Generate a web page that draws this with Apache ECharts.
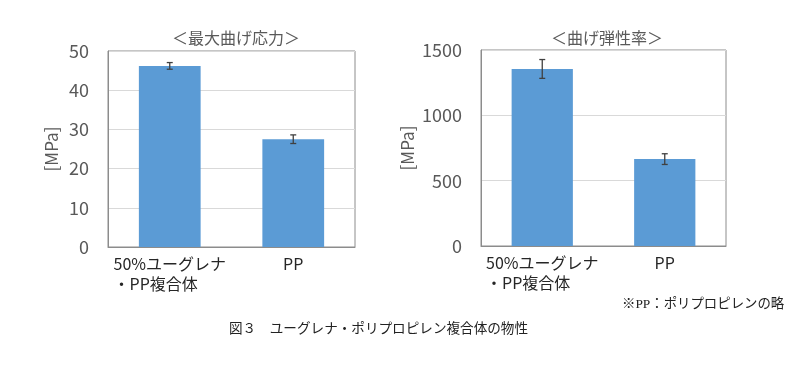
<!DOCTYPE html>
<html><head><meta charset="utf-8">
<script src="https://cdn.jsdelivr.net/npm/echarts@6/dist/echarts.min.js"></script>
<style>html,body{margin:0;padding:0;background:#fff}#c{width:800px;height:365px}</style>
</head><body><div id="c"></div>
<script>
const categories = ['50%ユーグレナ\n・PP複合体', 'PP'];
const stressValues = [46.2, 27.5];
const stressErrors = [0.85, 1.1];
const modulusValues = [1355, 665];
const modulusErrors = [72, 41];
const stressAxis = { min: 0, max: 50, interval: 10 };
const modulusAxis = { min: 0, max: 1500, interval: 500 };
const titles = ['＜最大曲げ応力＞', '＜曲げ弾性率＞'];
const yName = '[MPa]';
const footnote = '※PP：ポリプロピレンの略';
const caption = '図３　ユーグレナ・ポリプロピレン複合体の物性';

const SANS = "'Noto Sans CJK JP', sans-serif";
const SERIF = "'Liberation Serif', 'Noto Sans CJK JP', serif";
const AX = '#8c8c8c';

function errData(vals, errs) {
  return vals.map((v, i) => [i, v - errs[i], v + errs[i]]);
}
function errRender(params, api) {
  const x = api.value(0);
  const lo = api.coord([x, api.value(1)]);
  const hi = api.coord([x, api.value(2)]);
  const w = 3;
  const st = { stroke: '#404040', lineWidth: 1.3 };
  return { type: 'group', children: [
    { type: 'line', shape: { x1: lo[0], y1: lo[1], x2: hi[0], y2: hi[1] }, style: st },
    { type: 'line', shape: { x1: lo[0]-w, y1: lo[1], x2: lo[0]+w, y2: lo[1] }, style: st },
    { type: 'line', shape: { x1: hi[0]-w, y1: hi[1], x2: hi[0]+w, y2: hi[1] }, style: st }
  ]};
}
function xAxis(gi) {
  return {
    type: 'category', gridIndex: gi, data: categories,
    axisLine: { lineStyle: { color: AX } }, axisTick: { show: false },
    axisLabel: {
      interval: 0, hideOverlap: false,
      margin: 7, color: '#262626', fontFamily: SANS, fontSize: 16,
      formatter: v => v.indexOf('\n') >= 0 ? v.split('\n').map(s => '{a|' + s + '}').join('\n') : '{b|' + v + '}',
      rich: {
        a: { align: 'left', fontFamily: SANS, fontSize: 16, color: '#262626', lineHeight: 20 },
        b: { fontFamily: SANS, fontSize: 16, color: '#262626', lineHeight: 20 }
      }
    }
  };
}
function yAxis(gi, ax, gap) {
  return {
    type: 'value', gridIndex: gi, min: ax.min, max: ax.max, interval: ax.interval,
    name: yName, nameLocation: 'middle', nameRotate: 90, nameGap: gap,
    nameTextStyle: { color: '#595959', fontFamily: SANS, fontSize: 17 },
    axisLine: { show: true, lineStyle: { color: AX } }, axisTick: { show: false },
    axisLabel: { margin: 19, color: '#595959', fontFamily: SANS, fontSize: 18, formatter: v => String(v) },
    splitLine: { lineStyle: { color: '#d9d9d9' } }
  };
}
const chart = echarts.init(document.getElementById('c'), null, { renderer: 'canvas' });
chart.setOption({
  animation: false,
  backgroundColor: '#fff',
  title: [
    { text: titles[0], left: 231, top: 25, textAlign: 'center', textStyle: { color: '#595959', fontFamily: SANS, fontSize: 16, fontWeight: 'normal' } },
    { text: titles[1], left: 602, top: 25, textAlign: 'center', textStyle: { color: '#595959', fontFamily: SANS, fontSize: 16, fontWeight: 'normal' } },
    { text: footnote, left: 617, top: 293, textStyle: { color: '#222', fontFamily: SERIF, fontSize: 13.4, fontWeight: 'normal' } },
    { text: caption, left: 224, top: 318, textStyle: { color: '#222', fontFamily: SERIF, fontSize: 13.6, fontWeight: 'normal' } }
  ],
  grid: [
    { left: 108, top: 51, width: 247, height: 196, show: true, borderColor: AX, borderWidth: 1 },
    { left: 481, top: 50, width: 245, height: 196, show: true, borderColor: AX, borderWidth: 1 }
  ],
  xAxis: [xAxis(0), xAxis(1)],
  yAxis: [yAxis(0, stressAxis, 48), yAxis(1, modulusAxis, 65)],
  series: [
    { type: 'bar', xAxisIndex: 0, yAxisIndex: 0, data: stressValues, barWidth: '50%', itemStyle: { color: '#5b9bd5' } },
    { type: 'bar', xAxisIndex: 1, yAxisIndex: 1, data: modulusValues, barWidth: '50%', itemStyle: { color: '#5b9bd5' } },
    { type: 'custom', xAxisIndex: 0, yAxisIndex: 0, data: errData(stressValues, stressErrors), renderItem: errRender, z: 5 },
    { type: 'custom', xAxisIndex: 1, yAxisIndex: 1, data: errData(modulusValues, modulusErrors), renderItem: errRender, z: 5 }
  ]
});
</script></body></html>
